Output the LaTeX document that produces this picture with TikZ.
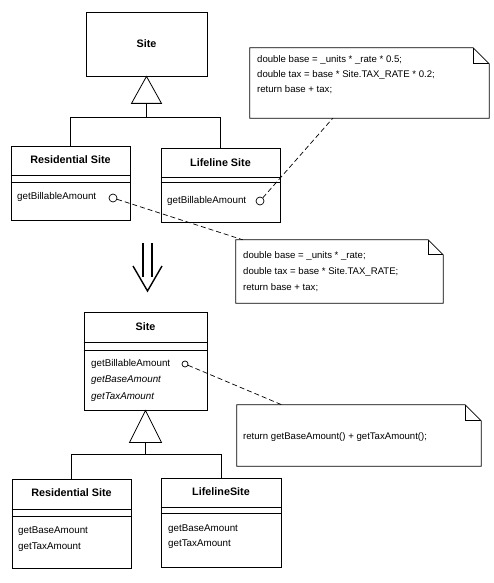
\documentclass[tikz,border=0pt]{standalone}
\usepackage{fontspec}
\setmainfont{Liberation Sans}
\usetikzlibrary{calc}
\begin{document}
\begin{tikzpicture}[x=1pt,y=-1pt,
  every node/.style={font=\fontsize{9.8}{11}\selectfont},
  classbox/.style={draw, rectangle, inner sep=0pt, line width=0.8pt},
  ttl/.style={font=\fontsize{10.8}{12}\selectfont\bfseries},
  meth/.style={anchor=west, inner sep=0pt},
  codeline/.style={anchor=west, inner sep=0pt, font=\fontsize{9.6}{11}\selectfont},
  port/.style={draw, circle, inner sep=0pt, minimum size=8pt, line width=0.7pt},
  lnk/.style={line width=0.8pt},
  dsh/.style={line width=0.7pt, dash pattern=on 5pt off 3pt},
  notebox/.style={rectangle, inner sep=0pt}
]
\useasboundingbox[fill=white] (0,0) rectangle (494,583);

% ---------- upper diagram ----------
\node[classbox, minimum width=121pt, minimum height=64pt] (site1) at (146.5,44) {};
\node[ttl] (site1t) at (146.5,44) {Site};

\node[classbox, minimum width=119pt, minimum height=74pt] (res1) at (70.5,183) {};
\node[ttl] (res1t) at (70.5,160) {Residential Site};
\draw[lnk] (res1.west |- 0,175) -- (res1.east |- 0,175);
\draw[lnk] (res1.west |- 0,182) -- (res1.east |- 0,182);
\node[meth] (res1m) at (17,197) {getBillableAmount};
\node[port] (res1c) at (113,198) {};

\node[classbox, minimum width=119pt, minimum height=74pt] (lif1) at (220.5,185) {};
\node[ttl] (lif1t) at (220.5,163) {Lifeline Site};
\draw[lnk] (lif1.west |- 0,177) -- (lif1.east |- 0,177);
\draw[lnk] (lif1.west |- 0,182) -- (lif1.east |- 0,182);
\node[meth] (lif1m) at (167,201) {getBillableAmount};
\node[port] (lif1c) at (260,201) {};

% generalisation
\coordinate (tri1b) at ($(site1.south)+(0,27)$);
\draw[lnk] (site1.south) -- ($(tri1b)+(-15,0)$) -- ($(tri1b)+(15,0)$) -- cycle;
\coordinate (j1) at ($(tri1b)+(0,14)$);
\draw[lnk] (tri1b) -- (j1);
\draw[lnk] (res1.north) |- (j1) -| (lif1.north);

% notes
\node[notebox, minimum width=239pt, minimum height=70pt] (n1) at (369.5,83) {};
\draw[lnk] (n1.north west) -- ([xshift=-16pt]n1.north east) -- ([yshift=-16pt]n1.north east) -- (n1.south east) -- (n1.south west) -- cycle;
\draw[lnk] ([xshift=-16pt]n1.north east) |- ([yshift=-16pt]n1.north east);
\node[codeline] (n1a) at (257,60) {double base = \_units * \_rate * 0.5;};
\node[codeline] (n1b) at (257,75) {double tax = base * Site.TAX\_RATE * 0.2;};
\node[codeline] (n1c) at (257,90) {return base + tax;};

\node[notebox, minimum width=207pt, minimum height=63pt] (n2) at (339.5,271.5) {};
\draw[lnk] (n2.north west) -- ([xshift=-15pt]n2.north east) -- ([yshift=-15pt]n2.north east) -- (n2.south east) -- (n2.south west) -- cycle;
\draw[lnk] ([xshift=-15pt]n2.north east) |- ([yshift=-15pt]n2.north east);
\node[codeline] (n2a) at (243,256) {double base = \_units * \_rate;};
\node[codeline] (n2b) at (243,272) {double tax = base * Site.TAX\_RATE;};
\node[codeline] (n2c) at (243,288) {return base + tax;};

\coordinate (e1) at ($(n1.south west)+(83,0)$);
\coordinate (e2) at ($(n2.north west)+(7,0)$);
\draw[dsh] (lif1c) -- (e1);
\draw[dsh] (res1c) -- (e2);

% ---------- refactoring arrow ----------
\draw[line width=1.2pt] (143,243) -- (143,277);
\draw[line width=1.2pt] (152,243) -- (152,277);
\draw[line width=1.4pt] (133,266) -- (147.5,291) -- (162,266);

% ---------- lower diagram ----------
\node[classbox, minimum width=123pt, minimum height=98pt] (site2) at (145.5,361) {};
\node[ttl] (site2t) at (145.5,327) {Site};
\draw[lnk] (site2.west |- 0,342) -- (site2.east |- 0,342);
\draw[lnk] (site2.west |- 0,350) -- (site2.east |- 0,350);
\node[meth] (site2m1) at (91,364) {getBillableAmount};
\node[meth] (site2m2) at (91,380) {\itshape getBaseAmount};
\node[meth] (site2m3) at (91,397) {\itshape getTaxAmount};
\node[port, minimum size=6pt] (site2c) at (185,364) {};

\node[classbox, minimum width=119pt, minimum height=89pt] (res2) at (71.5,523.5) {};
\node[ttl] (res2t) at (71.5,493) {Residential Site};
\draw[lnk] (res2.west |- 0,509) -- (res2.east |- 0,509);
\draw[lnk] (res2.west |- 0,516) -- (res2.east |- 0,516);
\node[meth] (res2m1) at (18,531) {getBaseAmount};
\node[meth] (res2m2) at (18,547) {getTaxAmount};

\node[classbox, minimum width=120pt, minimum height=89pt] (lif2) at (221,522.5) {};
\node[ttl] (lif2t) at (221,492) {LifelineSite};
\draw[lnk] (lif2.west |- 0,507) -- (lif2.east |- 0,507);
\draw[lnk] (lif2.west |- 0,513) -- (lif2.east |- 0,513);
\node[meth] (lif2m1) at (168,529) {getBaseAmount};
\node[meth] (lif2m2) at (168,544) {getTaxAmount};

\coordinate (tri2b) at ($(site2.south)+(0,32)$);
\draw[lnk] (site2.south) -- ($(tri2b)+(-16,0)$) -- ($(tri2b)+(16,0)$) -- cycle;
\coordinate (j2) at ($(tri2b)+(0,12)$);
\draw[lnk] (tri2b) -- (j2);
\draw[lnk] (res2.north) |- (j2) -| (lif2.north);

\node[notebox, minimum width=244pt, minimum height=61pt] (n3) at (359,435.5) {};
\draw[lnk] (n3.north west) -- ([xshift=-16pt]n3.north east) -- ([yshift=-16pt]n3.north east) -- (n3.south east) -- (n3.south west) -- cycle;
\draw[lnk] ([xshift=-16pt]n3.north east) |- ([yshift=-16pt]n3.north east);
\node[codeline] (n3a) at (243,437) {return getBaseAmount() + getTaxAmount();};

\coordinate (e3) at ($(n3.north west)+(45,0)$);
\draw[dsh] (site2c) -- (e3);
\end{tikzpicture}
\end{document}
